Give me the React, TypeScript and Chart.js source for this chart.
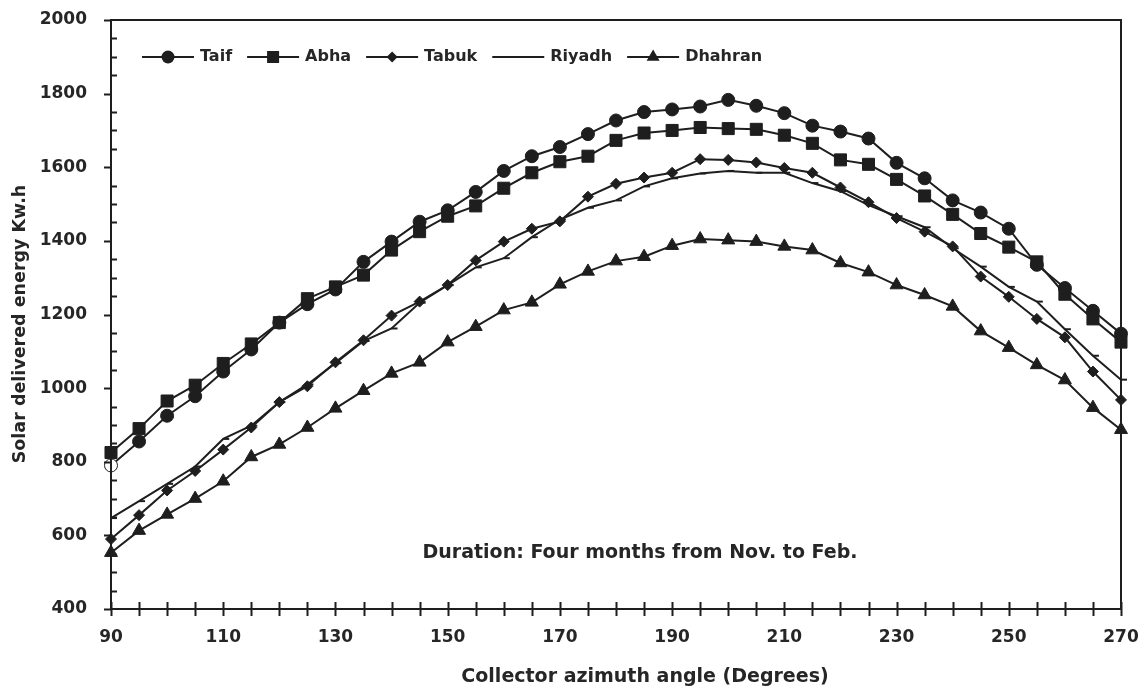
import React, { useEffect, useRef } from "react";
import { Chart, registerables } from "chart.js";

Chart.register(...registerables);

const angles = [90, 95, 100, 105, 110, 115, 120, 125, 130, 135, 140, 145, 150, 155, 160, 165, 170, 175, 180, 185, 190, 195, 200, 205, 210, 215, 220, 225, 230, 235, 240, 245, 250, 255, 260, 265, 270];

const taif = [790, 855, 925, 978, 1045, 1105, 1178, 1228, 1268, 1343, 1398, 1452, 1483, 1533, 1590, 1630, 1655, 1690, 1727, 1750, 1757, 1765, 1783, 1767, 1747, 1713, 1697, 1678, 1612, 1570, 1510, 1477, 1433, 1335, 1272, 1210, 1148];
const abha = [825, 890, 965, 1008, 1067, 1120, 1178, 1243, 1275, 1307, 1375, 1425, 1467, 1495, 1543, 1585, 1615, 1630, 1673, 1693, 1700, 1708, 1705, 1703, 1687, 1665, 1620, 1608, 1567, 1522, 1472, 1420, 1383, 1343, 1255, 1188, 1125];
const tabuk = [590, 655, 722, 775, 833, 893, 962, 1005, 1070, 1130, 1197, 1235, 1280, 1347, 1398, 1433, 1453, 1520, 1555, 1572, 1585, 1622, 1620, 1613, 1598, 1585, 1545, 1505, 1462, 1425, 1385, 1303, 1248, 1188, 1138, 1045, 968];
const riyadh = [647, 693, 740, 787, 862, 898, 962, 1010, 1068, 1128, 1162, 1232, 1280, 1328, 1353, 1410, 1458, 1490, 1510, 1548, 1570, 1583, 1590, 1585, 1585, 1557, 1535, 1497, 1467, 1437, 1380, 1330, 1275, 1235, 1160, 1088, 1023];
const dhahran = [553, 613, 657, 700, 747, 813, 847, 893, 945, 993, 1040, 1070, 1125, 1167, 1212, 1233, 1282, 1317, 1345, 1357, 1387, 1405, 1402, 1398, 1385, 1375, 1340, 1315, 1280, 1253, 1222, 1155, 1110, 1063, 1022, 947, 887];

const seriesNames = ["Taif", "Abha", "Tabuk", "Riyadh", "Dhahran"];
const seriesValues = [taif, abha, tabuk, riyadh, dhahran];
const pointStyles = ["circle", "rect", "rectRot", "dash", "triangle"];
const pointRadii = [6.5, 8.5, 5.5, 6, 7.5];

const annotationText = "Duration: Four months from Nov. to Feb.";
const xTitle = "Collector azimuth angle (Degrees)";
const yTitle = "Solar delivered energy Kw.h";

const INK = "#1e1e1e";
const TEXT = "#262626";
const FONT = "'DejaVu Sans', sans-serif";

function drawMarker(ctx: CanvasRenderingContext2D, style: string, r: number, x: number, y: number) {
  ctx.save();
  ctx.fillStyle = INK;
  ctx.strokeStyle = INK;
  ctx.lineWidth = 2;
  ctx.beginPath();
  if (style === "circle") {
    ctx.arc(x, y, r, 0, Math.PI * 2);
    ctx.fill();
  } else if (style === "rect") {
    const s = r * Math.SQRT1_2;
    ctx.rect(x - s, y - s, 2 * s, 2 * s);
    ctx.fill();
  } else if (style === "rectRot") {
    ctx.moveTo(x, y - r);
    ctx.lineTo(x + r, y);
    ctx.lineTo(x, y + r);
    ctx.lineTo(x - r, y);
    ctx.closePath();
    ctx.fill();
  } else if (style === "triangle") {
    ctx.moveTo(x, y - r);
    ctx.lineTo(x + r * 0.866, y + r * 0.5);
    ctx.lineTo(x - r * 0.866, y + r * 0.5);
    ctx.closePath();
    ctx.fill();
  } else if (style === "dash") {
    ctx.moveTo(x - r, y);
    ctx.lineTo(x + r, y);
    ctx.stroke();
  }
  ctx.restore();
}

const framePlugin = {
  id: "frame",
  afterDraw(chart: any) {
    const { ctx, chartArea } = chart;
    const { left, right, top, bottom } = chartArea;
    const xs = chart.scales.x;
    const ys = chart.scales.y;
    ctx.save();
    ctx.strokeStyle = INK;
    ctx.lineWidth = 2;
    ctx.beginPath();
    ctx.rect(left, top, right - left, bottom - top);
    ctx.stroke();
    ctx.beginPath();
    for (let v = 90; v <= 270; v += 5) {
      const px = Math.round(xs.getPixelForValue(v)) + 0.5;
      ctx.moveTo(px, bottom - 7);
      ctx.lineTo(px, bottom + 7);
    }
    for (let v = 400; v <= 2000; v += 50) {
      const py = Math.round(ys.getPixelForValue(v)) + 0.5;
      if (v % 200 === 0) {
        ctx.moveTo(left - 7, py);
        ctx.lineTo(left, py);
      } else {
        ctx.moveTo(left, py);
        ctx.lineTo(left + 6, py);
      }
    }
    ctx.stroke();

    // legend
    ctx.font = `bold 16px ${FONT}`;
    ctx.textBaseline = "middle";
    let x = left + 31;
    const y = top + 37;
    chart.data.datasets.forEach((ds: any, i: number) => {
      const len = 52;
      ctx.strokeStyle = INK;
      ctx.lineWidth = 2;
      ctx.beginPath();
      ctx.moveTo(x, y);
      ctx.lineTo(x + len, y);
      ctx.stroke();
      drawMarker(ctx, pointStyles[i], pointRadii[i], x + len / 2, y);
      ctx.fillStyle = TEXT;
      ctx.fillText(ds.label, x + len + 6, y);
      x += len + 6 + ctx.measureText(ds.label).width + 15;
    });

    // annotation
    ctx.font = `bold 19px ${FONT}`;
    ctx.textAlign = "center";
    ctx.fillStyle = TEXT;
    ctx.fillText(annotationText, left + 529, ys.getPixelForValue(552));

    // axis titles
    ctx.font = `bold 19px ${FONT}`;
    ctx.fillText(xTitle, left + 534, 677);
    ctx.save();
    ctx.translate(20, top + 304);
    ctx.rotate(-Math.PI / 2);
    ctx.font = `bold 17.5px ${FONT}`;
    ctx.fillText(yTitle, 0, 0);
    ctx.restore();
    ctx.restore();
  },
};

export default function App() {
  const ref = useRef<HTMLCanvasElement | null>(null);
  useEffect(() => {
    document.body.style.margin = "0";
    const canvas = ref.current!;
    const chart = new Chart(canvas, {
      type: "line",
      data: {
        labels: angles,
        datasets: seriesNames.map((name, i) => ({
          label: name,
          data: angles.map((a, j) => ({ x: a, y: seriesValues[i][j] })),
          borderColor: INK,
          borderWidth: 2,
          backgroundColor: INK,
          pointStyle: pointStyles[i] as any,
          pointRadius: pointRadii[i],
          pointBorderColor: INK,
          pointBorderWidth: i === 3 ? 2 : 1,
          pointBackgroundColor: i === 0 ? angles.map((_, j) => (j === 0 ? "#ffffff" : INK)) : INK,
          tension: 0,
          clip: false as any,
        })),
      },
      options: {
        animation: false,
        responsive: false,
        maintainAspectRatio: false,
        layout: { padding: { top: 20, right: 25, bottom: 0, left: 0 } },
        plugins: { legend: { display: false }, tooltip: { enabled: false } },
        scales: {
          x: {
            type: "linear",
            min: 90,
            max: 270,
            grid: { display: false },
            border: { display: false },
            afterFit: (s: any) => {
              s.height = 82;
              s.paddingLeft = 0;
              s.paddingRight = 0;
            },
            ticks: {
              stepSize: 20,
              padding: 10,
              color: TEXT,
              font: { family: FONT, size: 17, weight: "bold" },
              maxRotation: 0,
              callback: (v: any) => String(v),
            },
            title: { display: false },
          },
          y: {
            min: 400,
            max: 2000,
            grid: { display: false },
            border: { display: false },
            afterFit: (s: any) => {
              s.width = 111;
              s.paddingTop = 0;
              s.paddingBottom = 0;
            },
            ticks: {
              stepSize: 200,
              padding: 16,
              color: TEXT,
              font: { family: FONT, size: 17, weight: "bold" },
              callback: (v: any) => String(v),
            },
            title: { display: false },
          },
        },
      },
      plugins: [framePlugin],
    } as any);
    return () => chart.destroy();
  }, []);
  return (
    <div style={{ width: 1146, height: 691, background: "#fff" }}>
      <canvas ref={ref} width={1146} height={691} style={{ display: "block" }} />
    </div>
  );
}
